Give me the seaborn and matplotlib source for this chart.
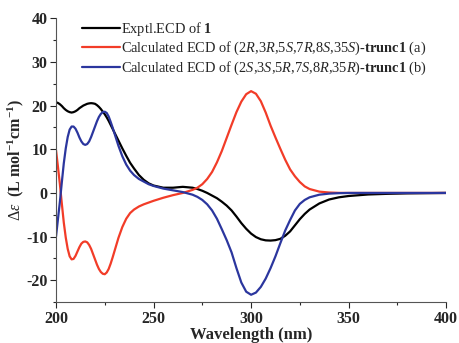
import matplotlib
matplotlib.use("Agg")
import matplotlib.pyplot as plt
import seaborn as sns
import pandas as pd
from matplotlib.ticker import MultipleLocator

# wavelength grid (nm) and the three ECD curves
wavelength = [200, 201, 202, 203, 204, 205, 206, 207, 208, 209, 210, 211, 212, 213, 214, 215,
              216, 217, 218, 219, 220, 221, 222, 223, 224, 225, 226, 227, 228, 229, 230, 232,
              234, 236, 238, 240, 242.5, 245, 247.5, 250, 255, 260, 265, 270, 272.5, 275, 277.5,
              280, 282.5, 285, 287.5, 290, 292.5, 295, 297.5, 300, 302.5, 305, 307.5, 310, 312.5,
              315, 317.5, 320, 322.5, 325, 327.5, 330, 335, 340, 345, 350, 360, 370, 380, 390, 400]
exptl = [20.75, 20.6, 20.3, 19.9, 19.4, 19.0, 18.7, 18.5, 18.4, 18.5, 18.7, 19.0, 19.4, 19.7, 20.0, 20.2,
         20.4, 20.5, 20.55, 20.5, 20.4, 20.1, 19.7, 19.2, 18.6, 18.0, 17.3, 16.5, 15.6, 14.7, 13.8, 12.0,
         10.2, 8.5, 6.9, 5.6, 4.1, 3.0, 2.2, 1.7, 1.2, 1.2, 1.4, 1.2, 0.9, 0.5, 0.0,
         -0.6, -1.2, -2.0, -2.9, -4.0, -5.4, -6.9, -8.2, -9.3, -10.1, -10.6, -10.85, -10.9, -10.8,
         -10.5, -9.8, -8.8, -7.4, -6.0, -4.8, -3.8, -2.4, -1.5, -1.0, -0.7, -0.35, -0.2, -0.1, -0.05, 0.0]
calc_a = [9.8, 6.0, 2.0, -2.5, -6.8, -10.2, -12.8, -14.5, -15.2, -15.1, -14.4, -13.4, -12.4, -11.6, -11.2, -11.1,
          -11.3, -11.9, -12.8, -14.0, -15.2, -16.4, -17.4, -18.1, -18.5, -18.6, -18.2, -17.4, -16.2, -14.8, -13.3, -10.3,
          -7.8, -5.9, -4.6, -3.8, -3.1, -2.6, -2.2, -1.8, -1.1, -0.5, 0.0, 0.7, 1.2, 2.0, 3.2,
          4.8, 7.0, 9.6, 12.6, 15.6, 18.5, 20.9, 22.6, 23.3, 22.7, 21.0, 18.4, 15.4, 12.7,
          10.1, 7.6, 5.4, 3.8, 2.5, 1.5, 0.9, 0.3, 0.1, 0.02, 0.0, 0.0, 0.0, 0.0, 0.0, 0.0]
calc_b = [-10.0, -6.0, -2.0, 2.5, 6.8, 10.2, 12.8, 14.5, 15.2, 15.2, 14.7, 13.8, 12.7, 11.8, 11.2, 11.0,
          11.2, 11.8, 12.8, 14.0, 15.2, 16.4, 17.4, 18.1, 18.5, 18.6, 18.3, 17.5, 16.3, 15.0, 13.6, 10.8,
          8.4, 6.5, 5.1, 4.1, 3.2, 2.6, 2.0, 1.6, 1.0, 0.6, 0.2, -0.4, -0.9, -1.6, -2.6,
          -4.0, -5.9, -8.3, -10.8, -13.6, -17.2, -20.5, -22.6, -23.3, -22.8, -21.5, -19.6, -17.2, -14.5,
          -11.5, -8.6, -6.2, -4.0, -2.5, -1.6, -1.0, -0.4, -0.15, -0.05, 0.0, 0.0, 0.0, 0.0, 0.0, 0.0]

labels = [
    r"Exptl.ECD of $\mathbf{1}$",
    r"Calculated ECD of (2$\mathit{R}$,3$\mathit{R}$,5$\mathit{S}$,7$\mathit{R}$,8$\mathit{S}$,35$\mathit{S}$)-$\mathbf{trunc1}$ (a)",
    r"Calculated ECD of (2$\mathit{S}$,3$\mathit{S}$,5$\mathit{R}$,7$\mathit{S}$,8$\mathit{R}$,35$\mathit{R}$)-$\mathbf{trunc1}$ (b)",
]
colors = ["#000000", "#f23c28", "#2b369e"]

df = pd.concat([
    pd.DataFrame({"Wavelength": wavelength, "de": vals, "curve": lab})
    for vals, lab in zip([exptl, calc_a, calc_b], labels)
])

sns.set_style("ticks")
plt.rcParams["font.family"] = ["Liberation Serif", "DejaVu Serif"]
plt.rcParams["mathtext.fontset"] = "custom"
plt.rcParams["mathtext.rm"] = "Liberation Serif"
plt.rcParams["mathtext.it"] = "Liberation Serif:italic"
plt.rcParams["mathtext.bf"] = "Liberation Serif:bold"
plt.rcParams["axes.unicode_minus"] = False

fig = plt.figure(figsize=(4.59, 3.43), dpi=100)
ax = fig.add_axes([0.122, 0.119, 0.850, 0.828])

sns.lineplot(data=df, x="Wavelength", y="de", hue="curve", palette=colors,
             linewidth=1.6, ax=ax, sort=False)

ax.set_xlim(200, 400)
ax.set_ylim(-25, 40)
ax.xaxis.set_major_locator(MultipleLocator(50))
ax.xaxis.set_minor_locator(MultipleLocator(25))
ax.yaxis.set_major_locator(MultipleLocator(10))
ax.yaxis.set_minor_locator(MultipleLocator(5))
ax.tick_params(which="major", length=4, width=0.8, labelsize=11.5, pad=2)
ax.tick_params(which="minor", length=2, width=0.8)
for t in ax.get_xticklabels() + ax.get_yticklabels():
    t.set_fontweight("bold")
sns.despine(ax=ax)
for s in ["left", "bottom"]:
    ax.spines[s].set_color("#555555")

ax.set_xlabel("Wavelength (nm)", fontsize=12, fontweight="bold", labelpad=0)
ax.set_ylabel(r"$\Delta\varepsilon$  (L mol$^{\mathbf{-1}}$cm$^{\mathbf{-1}}$)",
              fontsize=11.5, fontweight="bold", labelpad=0)

ax.legend(loc="upper left", bbox_to_anchor=(0.045, 1.025), frameon=False, fontsize=10.4,
          handlelength=2.6, handletextpad=0.1, labelspacing=0.15, borderaxespad=0.2)

plt.savefig("out.png", dpi=100)
